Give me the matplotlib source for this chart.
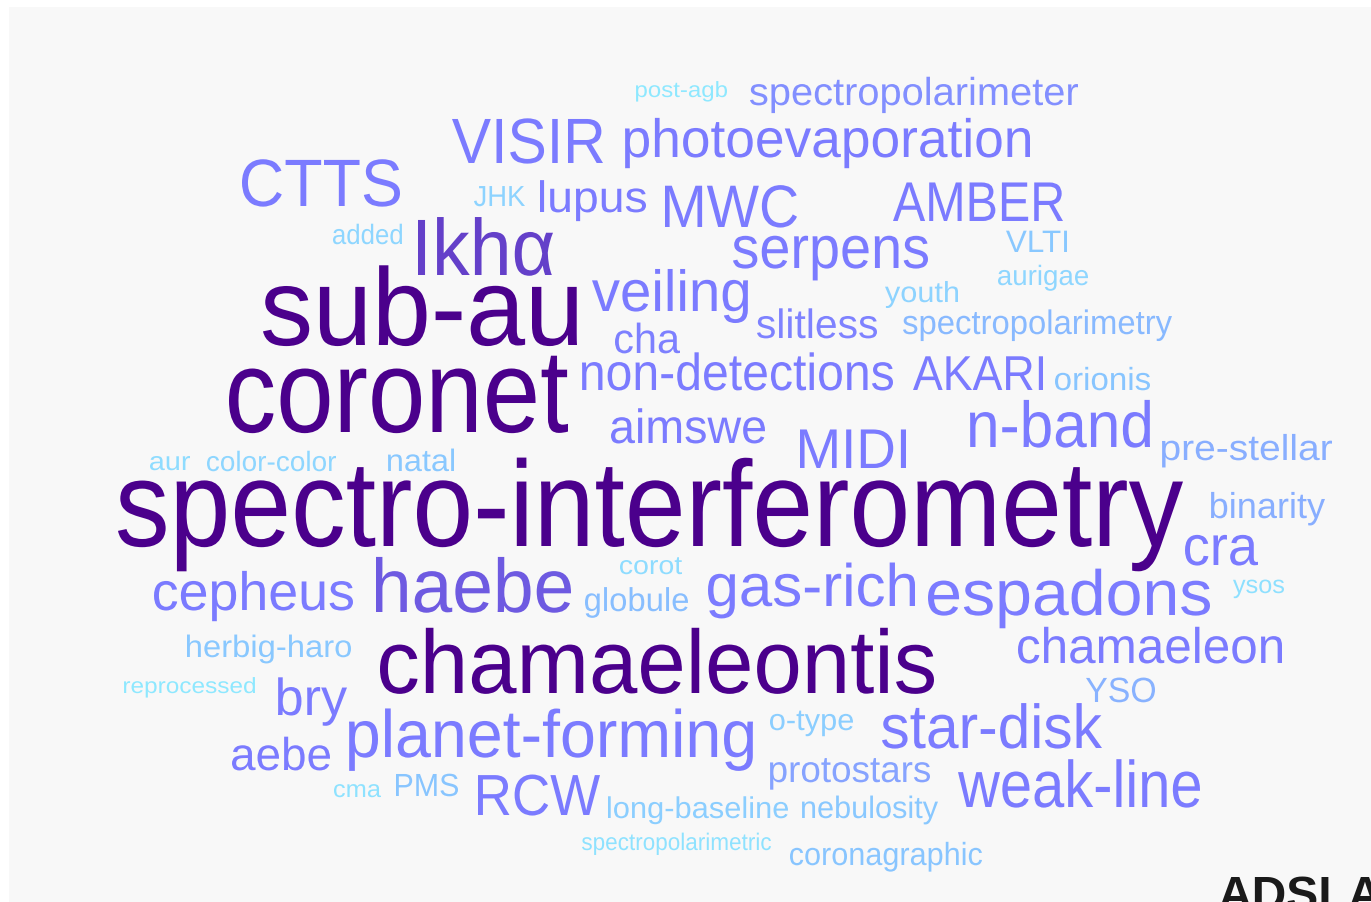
import matplotlib.pyplot as plt
import matplotlib.colors as mcolors
from matplotlib.font_manager import FontProperties
from matplotlib.patches import PathPatch, Rectangle
from matplotlib.textpath import TextPath
from matplotlib.transforms import Affine2D

# keyword cloud: terms and their weight (weight drives size and colour)
words = [
    "spectro-interferometry", "coronet", "sub-au", "chamaeleontis", "Ikhα",
    "haebe", "VISIR", "CTTS", "n-band", "weak-line", "planet-forming",
    "espadons", "star-disk", "MWC", "gas-rich", "AMBER", "RCW", "serpens",
    "veiling", "MIDI", "cra", "photoevaporation", "cepheus", "bry",
    "non-detections", "AKARI", "chamaeleon", "aimswe", "aebe", "lupus", "cha",
    "slitless", "spectropolarimeter", "protostars", "pre-stellar", "binarity",
    "YSO", "spectropolarimetry", "globule", "orionis", "VLTI", "PMS",
    "coronagraphic", "natal", "nebulosity", "herbig-haro", "long-baseline",
    "youth", "o-type", "JHK", "color-color", "aurigae", "added", "corot",
    "aur", "cma", "spectropolarimetric", "ysos", "post-agb", "reprocessed",
]
weights = [
    122, 118, 110, 90, 80,
    76, 64, 67, 65, 66, 67,
    64, 62, 60, 60, 56, 58, 60,
    58, 56, 56, 54, 54, 52,
    52, 49, 50, 48, 46, 44, 42,
    41, 39, 37, 36, 36,
    35, 34, 33, 32, 31, 32,
    32, 31, 31, 31, 30,
    29, 30, 29, 28, 28, 28, 26,
    26, 24, 24, 25, 22, 22,
]

# layout of the cloud in pixels: left / right ink edge and baseline
x_left = [
    118, 229, 263, 380, 418,
    376, 452, 242, 970, 958, 349,
    928, 882, 665, 708, 893, 478, 733,
    592, 800, 1185, 625, 154, 278,
    582, 913, 1018, 611, 232, 540, 615,
    757, 750, 770, 1162, 1211,
    1086, 903, 585, 1055, 1006, 396,
    790, 388, 802, 187, 608,
    885, 770, 474, 207, 998, 333, 620,
    150, 334, 582, 1233, 636, 124,
]
x_right = [
    1183, 568, 577, 934, 553,
    571, 603, 400, 1150, 1200, 753,
    1210, 1102, 797, 915, 1063, 600, 928,
    748, 906, 1258, 1030, 353, 347,
    893, 1043, 1282, 765, 330, 646, 680,
    877, 1078, 930, 1332, 1325,
    1155, 1172, 688, 1150, 1067, 458,
    982, 454, 938, 351, 788,
    958, 853, 525, 336, 1088, 402, 682,
    190, 381, 771, 1284, 727, 255,
]
baseline = [
    546, 432, 345, 693, 275,
    612, 163, 206, 447, 807, 757,
    615, 748, 227, 606, 221, 815, 268,
    311, 468, 565, 157, 610, 715,
    390, 390, 663, 443, 770, 212, 353,
    338, 105, 782, 460, 518,
    702, 334, 611, 390, 252, 796,
    865, 471, 818, 657, 818,
    302, 730, 206, 471, 285, 244, 574,
    470, 797, 850, 593, 97, 693,
]

W, H = 1371, 902
fig = plt.figure(figsize=(W / 100, H / 100), dpi=100)
fig.patch.set_facecolor("white")
ax = fig.add_axes([0, 0, 1, 1])
ax.set_xlim(0, W)
ax.set_ylim(H, 0)
ax.axis("off")

# light grey panel behind the cloud
ax.add_patch(Rectangle((9, 7), W - 9, H - 7, facecolor="#f8f8f8", edgecolor="none"))

# colour ramp from rare (light cyan) to frequent (indigo)
lo, hi = min(weights), max(weights)
nodes = [
    (22, "#8ee8ff"), (28, "#8ed6ff"), (32, "#88c4ff"), (36, "#88acff"),
    (40, "#7f84ff"), (44, "#7b7bff"), (70, "#7b7bff"), (78, "#6a50d8"),
    (88, "#4b008c"), (122, "#4b008c"),
]
cmap = mcolors.LinearSegmentedColormap.from_list(
    "cloud", [((v - lo) / (hi - lo), c) for v, c in nodes]
)
norm = plt.Normalize(lo, hi)

fp = FontProperties(family="Liberation Sans")
for word, wt, x0, x1, yb in zip(words, weights, x_left, x_right, baseline):
    path = TextPath((0, 0), word, size=1, prop=fp)
    ext = path.get_extents()
    sx = (x1 - x0) / ext.width
    tr = Affine2D().translate(-ext.x0, 0).scale(sx, -wt).translate(x0, yb)
    ax.add_patch(PathPatch(tr.transform_path(path), facecolor=cmap(norm(wt)),
                           edgecolor="none", lw=0))

# cut-off watermark in the bottom right corner
ax.text(1218, 910, "ADSLA", fontsize=48 * 0.72, fontweight="bold",
        family="Liberation Sans", color="#1a1a1a", ha="left", va="baseline")

fig.savefig("out.png", dpi=100)
